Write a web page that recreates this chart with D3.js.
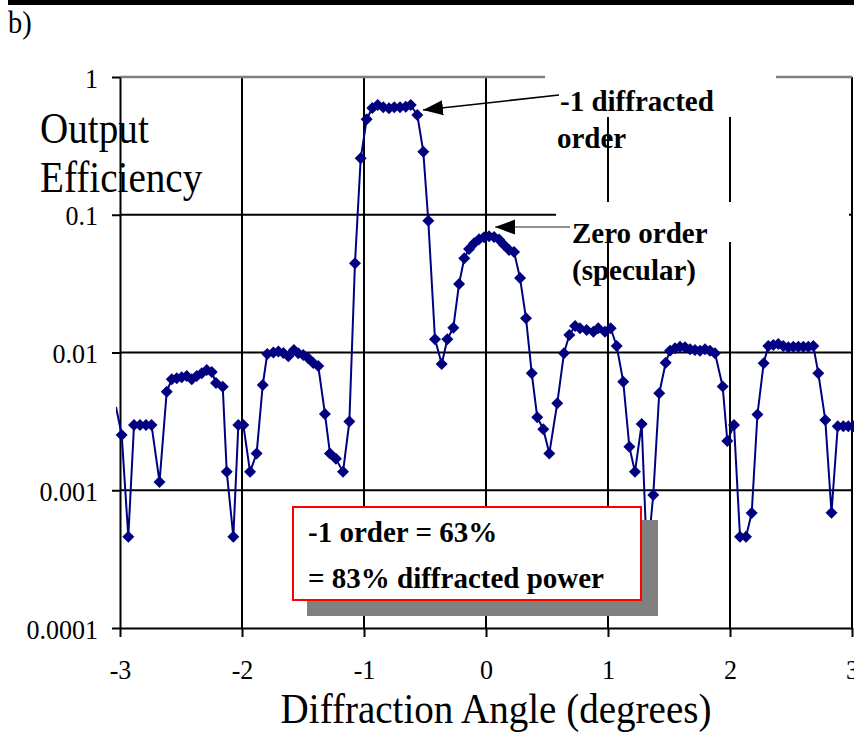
<!DOCTYPE html>
<html>
<head>
<meta charset="utf-8">
<script src="https://cdn.jsdelivr.net/npm/d3@7"></script>
<style>
  html, body { margin: 0; padding: 0; background: #fff; }
  svg { display: block; }
  svg text { font-family: "Liberation Serif", "Times New Roman", serif; fill: #000; }
</style>
</head>
<body>
<div id="viz"></div>
<script>
// angle in degrees
const angleDeg = [
  -3.033, -2.986, -2.932, -2.885, -2.836, -2.787, -2.742, -2.676, -2.617, -2.576,
  -2.535, -2.494, -2.453, -2.412, -2.371, -2.330, -2.289, -2.248, -2.213, -2.158,
  -2.125, -2.071, -2.030, -1.989, -1.934, -1.880, -1.830, -1.793, -1.743, -1.702,
  -1.661, -1.620, -1.575, -1.539, -1.498, -1.457, -1.416, -1.375, -1.320, -1.279,
  -1.230, -1.172, -1.120, -1.074, -1.027, -0.978, -0.932, -0.888, -0.842, -0.795,
  -0.752, -0.705, -0.658, -0.617, -0.563, -0.514, -0.473, -0.418, -0.363, -0.317,
  -0.268, -0.221, -0.178, -0.139, -0.098, -0.057, -0.016, 0.025, 0.066, 0.107,
  0.148, 0.189, 0.230, 0.279, 0.328, 0.375, 0.420, 0.470, 0.519, 0.584,
  0.639, 0.683, 0.730, 0.770, 0.825, 0.880, 0.920, 0.975, 1.022, 1.071,
  1.125, 1.175, 1.221, 1.276, 1.320, 1.371, 1.420, 1.473, 1.508, 1.549,
  1.590, 1.631, 1.672, 1.713, 1.754, 1.795, 1.836, 1.877, 1.940, 1.978,
  2.033, 2.082, 2.131, 2.178, 2.225, 2.276, 2.314, 2.355, 2.396, 2.437,
  2.478, 2.519, 2.560, 2.601, 2.642, 2.683, 2.724, 2.781, 2.832, 2.883,
  2.929, 2.970, 3.011
];

// output efficiency (log axis)
const efficiency = [
  0.00402, 0.00252, 0.00046, 0.00298, 0.00298, 0.00298, 0.00298, 0.00115, 0.00519, 0.00639,
  0.0065, 0.00661, 0.00675, 0.00639, 0.00675, 0.00706, 0.00746, 0.00722, 0.00601, 0.00565,
  0.00136, 0.00046, 0.00298, 0.00298, 0.00136, 0.00185, 0.00581, 0.00975, 0.0100, 0.01017,
  0.00991, 0.00938, 0.01043, 0.00987, 0.00959, 0.00908, 0.00839, 0.00798, 0.00358, 0.00185,
  0.00169, 0.00136, 0.00315, 0.0444, 0.257, 0.493, 0.596, 0.626, 0.603, 0.593,
  0.603, 0.603, 0.609, 0.626, 0.530, 0.287, 0.0905, 0.01247, 0.00826, 0.01247,
  0.01514, 0.0314, 0.0483, 0.0564, 0.0621, 0.0664, 0.0686, 0.0698, 0.0690, 0.0661,
  0.0603, 0.0555, 0.0537, 0.0347, 0.0177, 0.00706, 0.00339, 0.00277, 0.00185, 0.00428,
  0.00987, 0.0134, 0.01557, 0.0150, 0.01456, 0.01416, 0.0150, 0.01416, 0.0150, 0.01114,
  0.00614, 0.00207, 0.00136, 0.00303, 0.00031, 0.000924, 0.00506, 0.00843, 0.01031, 0.01072,
  0.01102, 0.01092, 0.01055, 0.01043, 0.01031, 0.01055, 0.01031, 0.00987, 0.00566, 0.00228,
  0.00298, 0.00046, 0.00046, 0.000684, 0.00355, 0.00835, 0.01114, 0.01133, 0.01153, 0.01114,
  0.01091, 0.01102, 0.01102, 0.01102, 0.01102, 0.01114, 0.00706, 0.00324, 0.000687, 0.00291,
  0.00291, 0.00291, 0.00291
];

const xTicks = [-3, -2, -1, 0, 1, 2, 3];
const xTickLabels = ["-3", "-2", "-1", "0", "1", "2", "3"];
const yTicks = [1, 0.1, 0.01, 0.001, 0.0001];
const yTickLabels = ["1", "0.1", "0.01", "0.001", "0.0001"];

const W = 854, H = 733;
const NAVY = "#000080";
const SERIF = "'Liberation Serif', 'Times New Roman', serif";
const SQUEEZE = 0.89; // the source glyphs are narrow

const svg = d3.select("#viz").append("svg")
  .attr("width", W)
  .attr("height", H)
  .attr("font-family", SERIF);

const x = d3.scaleLinear().domain([-3, 3]).range([120, 852]);
const y = d3.scaleLog().domain([0.0001, 1]).range([628, 77]);

// narrow serif text placed at (px, py)
function label(parent, px, py, txt, size, anchor, squeeze) {
  return parent.append("text")
    .attr("transform", `translate(${px},${py}) scale(${squeeze || SQUEEZE},1)`)
    .attr("text-anchor", anchor || "start")
    .attr("font-family", SERIF)
    .style("font-size", `${size}px`)
    .text(txt);
}

// top rule + panel letter
svg.append("rect").attr("x", 8).attr("y", 0).attr("width", W - 8).attr("height", 5).attr("fill", "#000");
label(svg, 8, 33, "b)", 32);

// grid
const grid = svg.append("g");
grid.selectAll("line.h")
  .data(yTicks.filter(v => v < 1 && v > 0.0001))
  .join("line")
  .attr("x1", x(-3)).attr("x2", x(3))
  .attr("y1", d => y(d)).attr("y2", d => y(d))
  .attr("stroke", "#000").attr("stroke-width", 2);
grid.selectAll("line.v")
  .data(xTicks.filter(v => v > -3))
  .join("line")
  .attr("x1", d => x(d)).attr("x2", d => x(d))
  .attr("y1", y(1)).attr("y2", y(0.0001))
  .attr("stroke", "#000").attr("stroke-width", 2);
// top border is grey
svg.append("line")
  .attr("x1", x(-3)).attr("x2", x(3))
  .attr("y1", y(1)).attr("y2", y(1))
  .attr("stroke", "#808080").attr("stroke-width", 2.5);

// white label backgrounds that cover the grid
svg.append("rect").attr("x", 545).attr("y", 60).attr("width", 231).attr("height", 57).attr("fill", "#fff");
svg.append("rect").attr("x", 556).attr("y", 202).attr("width", 293).attr("height", 40).attr("fill", "#fff");

// axes
const yAxis = svg.append("g")
  .attr("transform", `translate(${x(-3)},0)`)
  .call(d3.axisLeft(y).tickValues(yTicks).tickFormat((d, i) => yTickLabels[i]).tickSize(8).tickSizeOuter(0));
const xAxis = svg.append("g")
  .attr("transform", `translate(0,${y(0.0001)})`)
  .call(d3.axisBottom(x).tickValues(xTicks).tickFormat((d, i) => xTickLabels[i]).tickSize(9).tickSizeOuter(0));

[yAxis, xAxis].forEach(a => {
  a.attr("font-family", SERIF).attr("font-size", 28);
  a.select(".domain").attr("stroke", "#000").attr("stroke-width", 2);
  a.selectAll(".tick line").attr("stroke", "#000").attr("stroke-width", 2);
  a.selectAll(".tick text")
    .attr("fill", "#000")
    .attr("font-family", SERIF)
    .style("font-family", SERIF)
    .style("font-size", "28px");
});
yAxis.selectAll(".tick text")
  .attr("x", null).attr("dy", null)
  .attr("transform", `translate(-22,10) scale(0.93,1)`);
xAxis.selectAll(".tick text")
  .attr("y", null).attr("dy", null)
  .attr("transform", `translate(0,51) scale(0.93,1)`);

// axis titles
label(svg, 40, 143, "Output", 44);
label(svg, 40, 192, "Efficiency", 44);
label(svg, 496, 723, "Diffraction Angle (degrees)", 42, "middle", 0.93);

// data
const pts = angleDeg.map((a, i) => ({ a, v: efficiency[i] }));

svg.append("clipPath").attr("id", "clip")
  .append("rect").attr("x", 116).attr("y", 0).attr("width", W - 116).attr("height", H);

const line = d3.line().x(d => x(d.a)).y(d => y(d.v));
svg.append("path")
  .datum(pts)
  .attr("clip-path", "url(#clip)")
  .attr("fill", "none")
  .attr("stroke", NAVY)
  .attr("stroke-width", 2)
  .attr("stroke-linejoin", "round")
  .attr("d", line);

svg.append("g")
  .selectAll("path")
  .data(pts.filter(d => d.a >= -3))
  .join("path")
  .attr("d", d3.symbol(d3.symbolSquare, 72))
  .attr("transform", d => `translate(${x(d.a)},${y(d.v)}) rotate(45)`)
  .attr("fill", NAVY);

// annotations
const defs = svg.append("defs");
defs.append("marker")
  .attr("id", "arr")
  .attr("markerUnits", "userSpaceOnUse")
  .attr("viewBox", "0 -8 20 16")
  .attr("refX", 20).attr("refY", 0)
  .attr("markerWidth", 20).attr("markerHeight", 16)
  .attr("orient", "auto")
  .append("path").attr("d", "M0,-7.5L20,0L0,7.5Z").attr("fill", "#000");

svg.append("line")
  .attr("x1", 559).attr("y1", 95).attr("x2", 423).attr("y2", 110)
  .attr("stroke", "#000").attr("stroke-width", 1.5)
  .attr("marker-end", "url(#arr)");
svg.append("line")
  .attr("x1", 570).attr("y1", 227).attr("x2", 495).attr("y2", 227)
  .attr("stroke", "#222").attr("stroke-width", 1)
  .attr("marker-end", "url(#arr)");

const note = svg.append("g").style("font-size", "29px").style("font-weight", "bold");
note.append("text").attr("x", 560).attr("y", 111).text("-1 diffracted");
note.append("text").attr("x", 557).attr("y", 148).text("order");
note.append("text").attr("x", 572).attr("y", 243).text("Zero order");
note.append("text").attr("x", 572).attr("y", 280).text("(specular)");

// result box with shadow
svg.append("rect").attr("x", 307).attr("y", 520).attr("width", 351).attr("height", 96).attr("fill", "#808080");
svg.append("rect").attr("x", 293).attr("y", 507).attr("width", 348).attr("height", 93)
  .attr("fill", "#fff").attr("stroke", "#ff0000").attr("stroke-width", 2);
const box = svg.append("g").style("font-size", "29px").style("font-weight", "bold");
box.append("text").attr("x", 308).attr("y", 542).text("-1 order = 63%");
box.append("text").attr("x", 308).attr("y", 588).text("= 83% diffracted power");
</script>
</body>
</html>
